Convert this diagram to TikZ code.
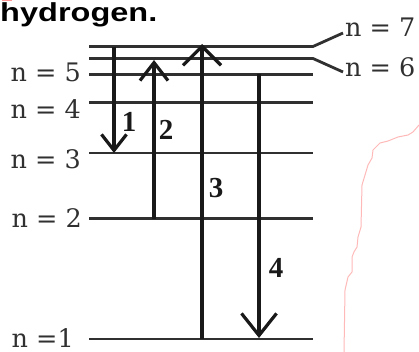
\documentclass[tikz,border=0pt]{standalone}
\usepackage{fontspec}
\usetikzlibrary{arrows.meta}
\newfontfamily\sansf{Liberation Sans}
\newfontfamily\levfont{DejaVu Serif}
\newfontfamily\numfont{Liberation Serif}
\definecolor{pinkline}{RGB}{255,185,185}
\definecolor{ink}{RGB}{25,25,25}
\begin{document}
\begin{tikzpicture}[x=1pt,y=-1pt,
  levelline/.style={line width=2.8pt, draw=ink!90},
  arr/.style={line width=3.2pt, draw=ink},
  lev/.style={font=\levfont\fontsize{25.5}{30}\selectfont, inner sep=0pt, text=ink!90},
  num/.style={font=\numfont\bfseries\fontsize{29}{32}\selectfont, inner sep=0pt, anchor=base, text=ink}]
\useasboundingbox (0,0) rectangle (419,352);

% title
\node[anchor=base west, inner sep=0pt, xscale=1.25,
      font=\sansf\bfseries\fontsize{26}{30}\selectfont] (title) at (0,21.5) {hydrogen.};
\draw[pinkline!80!red, line width=1.5pt] (2,0.7) -- (12,0.7);

% level coordinates
\coordinate (L7a) at (89,46.5);  \coordinate (L7b) at (313,46.5);
\coordinate (L6a) at (89,58.5);  \coordinate (L6b) at (313,58.5);
\coordinate (L5a) at (89,74.5);  \coordinate (L5b) at (313,74.5);
\coordinate (L4a) at (89,102.5); \coordinate (L4b) at (313,102.5);
\coordinate (L3a) at (89,153);   \coordinate (L3b) at (313,153);
\coordinate (L2a) at (89,218.5); \coordinate (L2b) at (313,218.5);
\coordinate (L1a) at (89,339);   \coordinate (L1b) at (313,339);
\coordinate (T7) at (343,33);
\coordinate (T6) at (343,72);

% levels
\draw[levelline] (L7a) -- (L7b) -- (T7);
\draw[levelline] (L6a) -- (L6b) -- (T6);
\draw[levelline] (L5a) -- (L5b);
\draw[levelline] (L4a) -- (L4b);
\draw[levelline] (L3a) -- (L3b);
\draw[levelline] (L2a) -- (L2b);
\draw[levelline] (L1a) -- (L1b);

% level labels
\node[lev, anchor=base east] (n5) at (81,82) {n = 5};
\node[lev, anchor=base east] (n4) at (81,119) {n = 4};
\node[lev, anchor=base east] (n3) at (81,169) {n = 3};
\node[lev, anchor=base east] (n2) at (82,227) {n = 2};
\node[lev, anchor=base east] (n1) at (74,347) {n =1};
\node[lev, anchor=base west] (n7) at (345,37) {n = 7};
\node[lev, anchor=base west] (n6) at (345,77) {n = 6};

% transitions
\coordinate (A1s) at (114,47);  \coordinate (A1e) at (114,153);
\coordinate (A2s) at (154,218.5); \coordinate (A2e) at (154,60);
\coordinate (A3s) at (202,339); \coordinate (A3e) at (202,44);
\coordinate (A4s) at (259,74.5); \coordinate (A4e) at (259,338);
\draw[arr, -{Straight Barb[length=16pt,width=25pt]}] (A1s) -- (A1e);
\draw[arr, -{Straight Barb[length=18pt,width=28pt]}] (A2s) -- (A2e);
\draw[arr, -{Straight Barb[length=19pt,width=38pt]}] (A3s) -- (A3e);
\draw[arr, -{Straight Barb[length=22pt,width=35pt]}] (A4s) -- (A4e);

% transition numbers
\node[num] (t1) at (129,132) {1};
\node[num] (t2) at (166,140) {2};
\node[num] (t3) at (216,197) {3};
\node[num] (t4) at (276,277) {4};

% pink edge
\draw[pinkline, line width=1pt]
  (419,125) -- (413,132) -- (408,135) -- (398,137) -- (388,141) -- (380,143)
  -- (373,150) -- (372,158) -- (368,165) -- (365,175) -- (362,185) -- (361,227)
  -- (358,237) -- (357,247) -- (354,252) -- (352,257) -- (352,272) -- (348,277)
  -- (345,290) -- (344,352);
\end{tikzpicture}
\end{document}
